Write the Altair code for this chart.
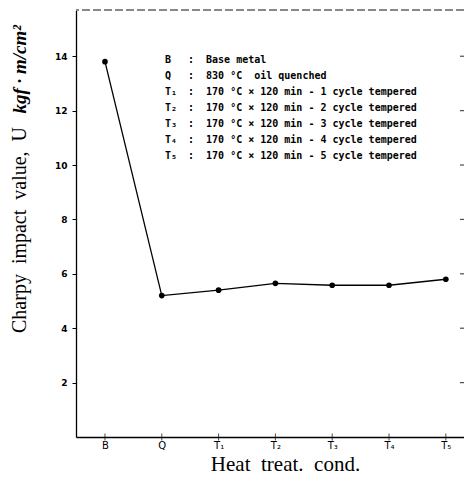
import altair as alt
import pandas as pd

# ---- data ----
conds = ["B", "Q", "T₁", "T₂", "T₃", "T₄", "T₅"]
impact = [13.8, 5.2, 5.4, 5.65, 5.58, 5.58, 5.8]
y_ticks = [2, 4, 6, 8, 10, 12, 14]
legend_codes = ["B", "Q", "T₁", "T₂", "T₃", "T₄", "T₅"]
NB = "\u00a0"
legend_texts = [
    ":" + NB + " Base metal",
    ":" + NB + " 830 °C" + NB + " oil quenched",
    ":" + NB + " 170 °C × 120 min - 1 cycle tempered",
    ":" + NB + " 170 °C × 120 min - 2 cycle tempered",
    ":" + NB + " 170 °C × 120 min - 3 cycle tempered",
    ":" + NB + " 170 °C × 120 min - 4 cycle tempered",
    ":" + NB + " 170 °C × 120 min - 5 cycle tempered",
]
y_title_main = "Charpy  impact  value,  U".replace("  ", NB + " ")
y_title_unit = "kgf · m/cm²"
x_title = "Heat" + NB + " treat." + NB + " cond."

X_MIN, X_MAX = -0.51, 6.32
Y_MAX = 15.7
W, H = 388, 427

df = pd.DataFrame({"idx": list(range(len(conds))), "cond": conds, "value": impact})
rt = pd.DataFrame({"value": y_ticks})
leg = pd.DataFrame({"codes": ["\n".join(legend_codes)], "texts": ["\n".join(legend_texts)]})
ttl = pd.DataFrame({"main": [y_title_main], "unit": [y_title_unit]})

label_expr = "[" + ",".join(f"'{c}'" for c in conds) + "][datum.value]"

x_enc = alt.X(
    "idx:Q",
    scale=alt.Scale(domain=[X_MIN, X_MAX], nice=False, zero=False),
    axis=alt.Axis(
        values=list(range(len(conds))),
        labelExpr=label_expr,
        title=x_title,
        ticks=False,
        grid=False,
        domainColor="black",
        domainWidth=1.3,
        labelFont="DejaVu Sans",
        labelFontSize=10,
        labelColor="black",
        labelPadding=3,
        titleFont="Liberation Serif",
        titleFontSize=21,
        titleFontWeight="normal",
        titleColor="black",
        titleX=209,
        titleY=27,
        titleBaseline="middle",
        titleAlign="center",
    ),
)
y_enc = alt.Y(
    "value:Q",
    scale=alt.Scale(domain=[0, Y_MAX], nice=False),
    axis=alt.Axis(
        values=y_ticks,
        title=None,
        grid=False,
        domainColor="black",
        domainWidth=1.3,
        tickColor="black",
        tickSize=4,
        labelFont="DejaVu Sans",
        labelFontSize=9,
        labelFontWeight="bold",
        labelColor="black",
        labelPadding=5,
    ),
)

top_rule = alt.Chart(df).mark_rule(color="#888888", strokeWidth=1, strokeDash=[8, 3]).encode(
    y=alt.datum(Y_MAX)
)
line = alt.Chart(df).mark_line(color="black", strokeWidth=1.3).encode(x=x_enc, y=y_enc)
pts = alt.Chart(df).mark_point(filled=True, color="black", size=32, opacity=1).encode(
    x="idx:Q", y="value:Q"
)
xticks = alt.Chart(df).mark_tick(color="black", orient="vertical", size=7, thickness=1).encode(
    x="idx:Q", y=alt.datum(0)
)
rticks = alt.Chart(rt).mark_tick(color="black", orient="horizontal", size=8, thickness=1.2).encode(
    x=alt.datum(X_MAX), y="value:Q"
)
leg_style = dict(
    lineBreak="\n", align="left", baseline="top", font="DejaVu Sans Mono",
    fontWeight="bold", fontSize=10, lineHeight=16, color="black",
)
leg_codes = alt.Chart(leg).mark_text(**leg_style).encode(
    text="codes:N", x=alt.value(89), y=alt.value(45)
)
leg_texts = alt.Chart(leg).mark_text(**leg_style).encode(
    text="texts:N", x=alt.value(112), y=alt.value(45)
)
y_title1 = alt.Chart(ttl).mark_text(
    angle=270, align="left", baseline="middle", font="Liberation Serif",
    fontSize=20, color="black",
).encode(text="main:N", x=alt.value(-56), y=alt.value(323))
y_title2 = alt.Chart(ttl).mark_text(
    angle=270, align="right", baseline="middle", font="Liberation Serif",
    fontSize=19, fontWeight="bold", fontStyle="italic", color="black",
).encode(text="unit:N", x=alt.value(-56), y=alt.value(15))

chart = (
    alt.layer(top_rule, line, pts, xticks, rticks, leg_codes, leg_texts, y_title1, y_title2)
    .properties(
        width=W,
        height=H,
        autosize=alt.AutoSizeParams(type="none"),
        padding={"left": 68, "top": 2, "right": 0, "bottom": 37},
        background="white",
    )
    .configure_view(stroke=None)
)

chart.save("out.html", embed_options={"renderer": "svg", "actions": False})
